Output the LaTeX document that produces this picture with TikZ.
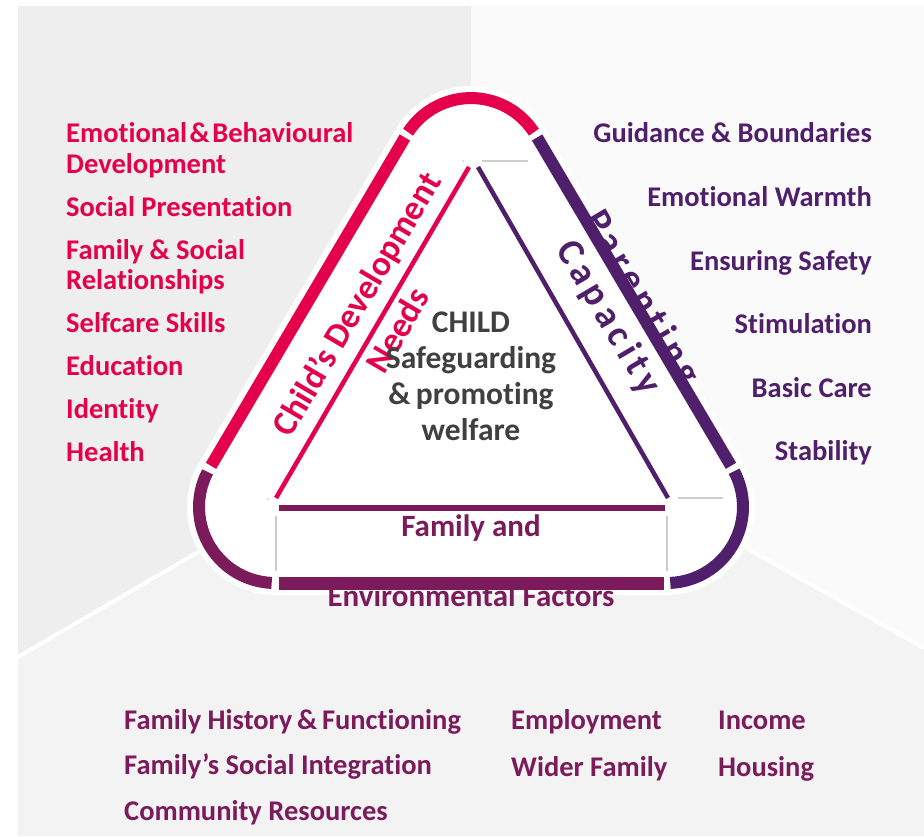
\documentclass[tikz,border=0pt]{standalone}
\usepackage{fontspec}
\setmainfont{Carlito}[Ligatures=NoCommon]
\newfontfamily\spacedfont{Carlito}[Ligatures=NoCommon, LetterSpace=14]
\definecolor{crimson}{RGB}{228,0,75}
\definecolor{violetc}{RGB}{80,31,107}
\definecolor{plum}{RGB}{123,27,92}
\definecolor{ink}{RGB}{64,64,64}
\definecolor{bgleft}{RGB}{238,238,238}
\definecolor{bgright}{RGB}{250,250,250}
\definecolor{bgbottom}{RGB}{243,243,243}
\definecolor{guidegrey}{RGB}{205,205,205}
\begin{document}
\begin{tikzpicture}[x=1pt,y=-1pt,
  listfont/.style={font=\fontsize{28.5}{30}\selectfont\bfseries, inner sep=0pt},
  lefttxt/.style={listfont, anchor=base west, text=crimson},
  righttxt/.style={listfont, anchor=base east, text=violetc},
  bottomtxt/.style={listfont, anchor=base west, text=plum},
  sidetxt/.style={font=\fontsize{35}{40}\selectfont\bfseries, inner sep=0pt},
  spacedtxt/.style={font=\spacedfont\fontsize{38}{42}\selectfont\bfseries, inner sep=0pt},
  basetxt/.style={font=\fontsize{31}{36}\selectfont\bfseries, inner sep=0pt, text=plum},
  ring/.style={line width=12pt, line cap=butt},
  inner/.style={line width=4.5pt, line cap=butt},
  guide/.style={draw=guidegrey, line width=1.6pt}]
\useasboundingbox (0,0) rectangle (924,836);

% background panels
\fill[bgbottom] (18,6) rectangle (924,836);
\fill[bgleft] (18,6) -- (471,6) -- (471,393) -- (18,657) -- cycle;
\fill[bgright] (471,6) -- (924,6) -- (924,648) -- (471,393) -- cycle;
\coordinate (mid) at (471,393);
\coordinate (sw) at (18,657);
\coordinate (se) at (924,648);
\draw[white, line width=4pt] (mid) -- (sw);
\draw[white, line width=4pt] (mid) -- (se);

% white halo round the rounded triangle
\draw[white, line width=24pt, line join=round, fill=white]
  (406.4,134.9) arc[start angle=210.5, end angle=329.5, radius=75]
  -- (732.5,468.4) arc[start angle=-30.5, end angle=90, radius=76]
  -- (275,583) arc[start angle=90, end angle=210.5, radius=76] -- cycle;

% labels that sit half under the ring
\node[spacedtxt, text=violetc, rotate=-59.5] (parenting) at (641,298) {Parenting};
\node[basetxt, anchor=base] (envf) at (471,606) {Environmental Factors};

% white interior
\fill[white]
  (406.4,134.9) arc[start angle=210.5, end angle=329.5, radius=75]
  -- (732.5,468.4) arc[start angle=-30.5, end angle=90, radius=76]
  -- (275,583) arc[start angle=90, end angle=210.5, radius=76] -- cycle;

% outer ring segments
\coordinate (tl) at (406.4,134.9);
\coordinate (tr) at (535.6,134.9);
\coordinate (bl) at (209.5,468.4);
\coordinate (br) at (732.5,468.4);
\coordinate (bbl) at (275,583);
\coordinate (bbr) at (667,583);
\draw[ring, crimson] (408.1,132.2) arc[start angle=213, end angle=327, radius=75];
\draw[ring, crimson, shorten <=3pt, shorten >=3pt] (tl) -- (bl);
\draw[ring, plum] (207.6,471.9) arc[start angle=207.5, end angle=92.5, radius=76];
\draw[ring, plum, line width=13pt, shorten <=4pt, shorten >=3pt] (bbl) -- (bbr);
\draw[ring, violetc] (670.3,582.9) arc[start angle=87.5, end angle=-28, radius=76];
\draw[ring, violetc, shorten <=3pt, shorten >=3pt] (tr) -- (br);

% inner triangle
\coordinate (ia) at (469,167);
\coordinate (ib) at (478,167);
\coordinate (il) at (276,498);
\coordinate (ir) at (668,498);
\draw[inner, crimson] (ia) -- (il);
\draw[inner, violetc] (ib) -- (ir);
\coordinate (bl1) at (279,508);
\coordinate (br1) at (665,508);
\draw[plum, line width=6pt] (bl1) -- (br1);

% thin grey guides
\coordinate (g1) at (482,161);
\coordinate (g2) at (528,161);
\coordinate (g3) at (276,516);
\coordinate (g4) at (276,571);
\coordinate (g5) at (667,516);
\coordinate (g6) at (667,571);
\coordinate (g7) at (678,498);
\coordinate (g8) at (723,498);
\draw[guide] (g1) -- (g2);
\draw[guide] (g3) -- (g4);
\draw[guide] (g5) -- (g6);
\draw[guide] (g7) -- (g8);
\fill[guidegrey] (463,161) circle (1pt);
\fill[guidegrey] (268,499) circle (1pt);

% labels inside the ring
\node[sidetxt, text=crimson, rotate=59.5] (cdev) at (358,305) {Child’s Development};
\node[sidetxt, text=crimson, rotate=59.5] (needs) at (397,330) {Needs};
\node[spacedtxt, text=violetc, rotate=-59.5] (capacity) at (608,318) {Capacity};
\node[basetxt, anchor=base] (famand) at (471,536) {Family and};

% centre
\node[font=\fontsize{31.5}{36}\selectfont\bfseries, text=ink, align=center, inner sep=0pt, anchor=base] (child) at (471,440)
  {CHILD\\Safeguarding\\\&\,promoting\\welfare};

% child's developmental needs
\node[lefttxt] (l1) at (66,142) {Emotional\hspace{2.5pt}\&\hspace{2.5pt}Behavioural};
\node[lefttxt] (l2) at (66,173) {Development};
\node[lefttxt] (l3) at (66,216) {Social Presentation};
\node[lefttxt] (l4) at (66,259) {Family \& Social};
\node[lefttxt] (l5) at (66,289) {Relationships};
\node[lefttxt] (l6) at (66,332) {Selfcare Skills};
\node[lefttxt] (l7) at (66,375) {Education};
\node[lefttxt] (l8) at (66,418) {Identity};
\node[lefttxt] (l9) at (66,461) {Health};

% parenting capacity
\node[righttxt] (r1) at (872,142) {Guidance \& Boundaries};
\node[righttxt] (r2) at (872,206) {Emotional Warmth};
\node[righttxt] (r3) at (872,270) {Ensuring Safety};
\node[righttxt] (r4) at (872,333) {Stimulation};
\node[righttxt] (r5) at (872,397) {Basic Care};
\node[righttxt] (r6) at (872,460) {Stability};

% family and environmental factors
\node[bottomtxt] (b1) at (124,729) {Family History\,\&\,Functioning};
\node[bottomtxt] (b2) at (124,774) {Family’s Social Integration};
\node[bottomtxt] (b3) at (124,820) {Community Resources};
\node[bottomtxt] (b4) at (511,729) {Employment};
\node[bottomtxt] (b5) at (511,776) {Wider Family};
\node[bottomtxt] (b6) at (718,729) {Income};
\node[bottomtxt] (b7) at (718,776) {Housing};
\end{tikzpicture}
\end{document}
